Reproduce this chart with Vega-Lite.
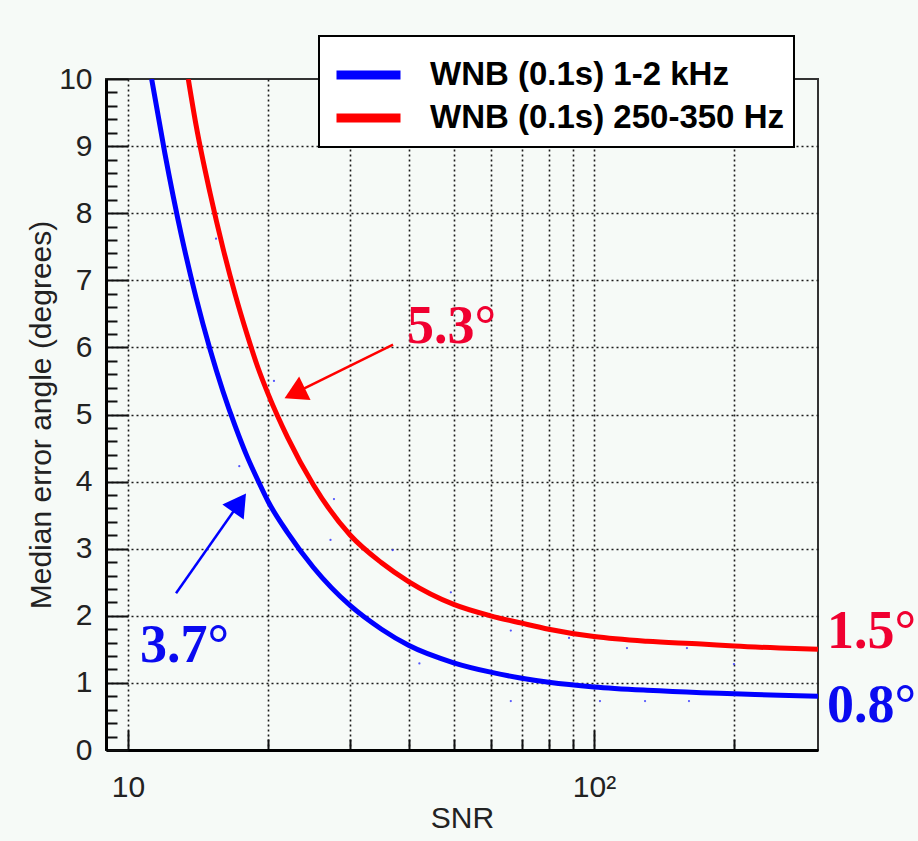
{
  "$schema": "https://vega.github.io/schema/vega-lite/v6.json",
  "width": 712,
  "height": 671,
  "autosize": {"type": "none"},
  "padding": {"left": 106, "top": 79, "right": 100, "bottom": 91},
  "background": "#f6faf7",
  "config": {
    "view": {"stroke": "#333", "strokeWidth": 2, "fill": "#f6faf7"},
    "legend": {"strokeWidth": 2},
    "axis": {
      "labelFont": "Liberation Sans",
      "labelFontSize": 30,
      "labelColor": "#222",
      "labelOverlap": false,
      "titleFont": "Liberation Sans",
      "titleFontSize": 30,
      "titleFontWeight": "normal",
      "titleColor": "#222",
      "domainColor": "#000",
      "domainWidth": 3,
      "tickColor": "#111",
      "tickWidth": 2,
      "gridColor": "#1a1a1a",
      "gridDash": [2, 3],
      "gridWidth": 1.6
    }
  },
  "datasets": {
    "curves": [
      {"snr": 11.24, "err": 10, "series": "WNB (0.1s) 1-2 kHz"},
      {"snr": 12, "err": 8.89, "series": "WNB (0.1s) 1-2 kHz"},
      {"snr": 13, "err": 7.69, "series": "WNB (0.1s) 1-2 kHz"},
      {"snr": 14, "err": 6.74, "series": "WNB (0.1s) 1-2 kHz"},
      {"snr": 15, "err": 5.97, "series": "WNB (0.1s) 1-2 kHz"},
      {"snr": 16, "err": 5.34, "series": "WNB (0.1s) 1-2 kHz"},
      {"snr": 17, "err": 4.82, "series": "WNB (0.1s) 1-2 kHz"},
      {"snr": 18, "err": 4.38, "series": "WNB (0.1s) 1-2 kHz"},
      {"snr": 19, "err": 4.02, "series": "WNB (0.1s) 1-2 kHz"},
      {"snr": 20, "err": 3.7, "series": "WNB (0.1s) 1-2 kHz"},
      {"snr": 22, "err": 3.24, "series": "WNB (0.1s) 1-2 kHz"},
      {"snr": 25, "err": 2.72, "series": "WNB (0.1s) 1-2 kHz"},
      {"snr": 30, "err": 2.15, "series": "WNB (0.1s) 1-2 kHz"},
      {"snr": 35, "err": 1.8, "series": "WNB (0.1s) 1-2 kHz"},
      {"snr": 40, "err": 1.56, "series": "WNB (0.1s) 1-2 kHz"},
      {"snr": 50, "err": 1.3, "series": "WNB (0.1s) 1-2 kHz"},
      {"snr": 60, "err": 1.16, "series": "WNB (0.1s) 1-2 kHz"},
      {"snr": 70, "err": 1.07, "series": "WNB (0.1s) 1-2 kHz"},
      {"snr": 80, "err": 1.01, "series": "WNB (0.1s) 1-2 kHz"},
      {"snr": 100, "err": 0.94, "series": "WNB (0.1s) 1-2 kHz"},
      {"snr": 130, "err": 0.89, "series": "WNB (0.1s) 1-2 kHz"},
      {"snr": 170, "err": 0.855, "series": "WNB (0.1s) 1-2 kHz"},
      {"snr": 200, "err": 0.84, "series": "WNB (0.1s) 1-2 kHz"},
      {"snr": 250, "err": 0.815, "series": "WNB (0.1s) 1-2 kHz"},
      {"snr": 302.5, "err": 0.8, "series": "WNB (0.1s) 1-2 kHz"},
      {"snr": 13.47, "err": 10, "series": "WNB (0.1s) 250-350 Hz"},
      {"snr": 14, "err": 9.31, "series": "WNB (0.1s) 250-350 Hz"},
      {"snr": 15, "err": 8.3, "series": "WNB (0.1s) 250-350 Hz"},
      {"snr": 16, "err": 7.47, "series": "WNB (0.1s) 250-350 Hz"},
      {"snr": 17, "err": 6.78, "series": "WNB (0.1s) 250-350 Hz"},
      {"snr": 18, "err": 6.2, "series": "WNB (0.1s) 250-350 Hz"},
      {"snr": 19, "err": 5.7, "series": "WNB (0.1s) 250-350 Hz"},
      {"snr": 20, "err": 5.3, "series": "WNB (0.1s) 250-350 Hz"},
      {"snr": 22, "err": 4.66, "series": "WNB (0.1s) 250-350 Hz"},
      {"snr": 25, "err": 3.95, "series": "WNB (0.1s) 250-350 Hz"},
      {"snr": 30, "err": 3.2, "series": "WNB (0.1s) 250-350 Hz"},
      {"snr": 35, "err": 2.79, "series": "WNB (0.1s) 250-350 Hz"},
      {"snr": 40, "err": 2.51, "series": "WNB (0.1s) 250-350 Hz"},
      {"snr": 50, "err": 2.17, "series": "WNB (0.1s) 250-350 Hz"},
      {"snr": 60, "err": 2.0, "series": "WNB (0.1s) 250-350 Hz"},
      {"snr": 70, "err": 1.89, "series": "WNB (0.1s) 250-350 Hz"},
      {"snr": 80, "err": 1.8, "series": "WNB (0.1s) 250-350 Hz"},
      {"snr": 100, "err": 1.69, "series": "WNB (0.1s) 250-350 Hz"},
      {"snr": 130, "err": 1.62, "series": "WNB (0.1s) 250-350 Hz"},
      {"snr": 170, "err": 1.58, "series": "WNB (0.1s) 250-350 Hz"},
      {"snr": 200, "err": 1.55, "series": "WNB (0.1s) 250-350 Hz"},
      {"snr": 250, "err": 1.52, "series": "WNB (0.1s) 250-350 Hz"},
      {"snr": 302.5, "err": 1.5, "series": "WNB (0.1s) 250-350 Hz"}
    ],
    "scatter": [
      {"snr": 15.45, "err": 7.62},
      {"snr": 20.57, "err": 5.5},
      {"snr": 17.33, "err": 4.23},
      {"snr": 27.67, "err": 3.74},
      {"snr": 27.2, "err": 3.13},
      {"snr": 36.98, "err": 2.98},
      {"snr": 49.3, "err": 2.35},
      {"snr": 42.2, "err": 1.29},
      {"snr": 66.3, "err": 1.78},
      {"snr": 88.4, "err": 1.67},
      {"snr": 117.7, "err": 1.52},
      {"snr": 158.3, "err": 1.52},
      {"snr": 199.7, "err": 1.28},
      {"snr": 66.3, "err": 0.73},
      {"snr": 103, "err": 0.73},
      {"snr": 128.7, "err": 0.73},
      {"snr": 159.9, "err": 0.73}
    ],
    "arrows": [
      {"band": "1-2 kHz", "snr_from": 12.68, "err_from": 2.335, "snr_to": 17.35, "err_to": 3.684},
      {"band": "250-350 Hz", "snr_from": 37.05, "err_from": 6.04, "snr_to": 22.79, "err_to": 5.317}
    ],
    "notes": [
      {"band": "1-2 kHz", "text": "3.7°", "snr": 10.15, "err": 1.31},
      {"band": "1-2 kHz", "text": "0.8°", "snr": 302.5, "err": 0.417},
      {"band": "250-350 Hz", "text": "5.3°", "snr": 37.97, "err": 6.07},
      {"band": "250-350 Hz", "text": "1.5°", "snr": 302.5, "err": 1.52}
    ]
  },
  "layer": [
    {
      "data": {"name": "curves"},
      "mark": {"type": "line", "interpolate": "monotone", "strokeWidth": 5, "clip": true},
      "encoding": {
        "x": {
          "field": "snr", "type": "quantitative",
          "scale": {"type": "log", "domain": [8.97, 302.5], "nice": false},
          "axis": {
            "title": "SNR",
            "values": [10, 20, 30, 40, 50, 60, 70, 80, 90, 100, 200],
            "tickCount": 100,
            "labelExpr": "datum.value == 10 ? '10' : datum.value == 100 ? '10²' : ''",
            "tickSize": {"condition": {"test": "datum.value == 10 || datum.value == 100", "value": -20}, "value": -11},
            "labelPadding": 42,
            "titlePadding": -8,
            "grid": true
          }
        },
        "y": {
          "field": "err", "type": "quantitative",
          "scale": {"domain": [0, 10], "nice": false},
          "axis": {
            "title": "Median error angle (degrees)",
            "values": [0, 0.2, 0.4, 0.6, 0.8, 1, 1.2, 1.4, 1.6, 1.8, 2, 2.2, 2.4, 2.6, 2.8, 3, 3.2, 3.4, 3.6, 3.8, 4, 4.2, 4.4, 4.6, 4.8, 5, 5.2, 5.4, 5.6, 5.8, 6, 6.2, 6.4, 6.6, 6.8, 7, 7.2, 7.4, 7.6, 7.8, 8, 8.2, 8.4, 8.6, 8.8, 9, 9.2, 9.4, 9.6, 9.8, 10],
            "tickCount": 200,
            "labelExpr": "datum.value == round(datum.value) ? format(datum.value, 'd') : ''",
            "tickSize": {"condition": {"test": "datum.value == round(datum.value)", "value": -22}, "value": -11},
            "gridOpacity": {"condition": {"test": "datum.value == round(datum.value) && datum.value > 0 && datum.value < 10", "value": 1}, "value": 0},
            "labelPadding": 36,
            "titlePadding": 2,
            "grid": true
          }
        },
        "color": {
          "field": "series", "type": "nominal",
          "scale": {"domain": ["WNB (0.1s) 1-2 kHz", "WNB (0.1s) 250-350 Hz"], "range": ["#0000ff", "#ff0000"]},
          "legend": {
            "orient": "none", "legendX": 213, "legendY": -43,
            "title": " ", "titleFontSize": 8, "titlePadding": 2,
            "symbolType": "stroke", "symbolStrokeWidth": 9, "symbolSize": 4096, "symbolOffset": 3,
            "clipHeight": 38, "rowPadding": 5, "padding": 10,
            "labelFont": "Liberation Sans",
            "labelFontSize": 33, "labelFontWeight": "bold",
            "labelColor": "#000", "labelOffset": 25, "labelLimit": 600,
            "fillColor": "#ffffff", "strokeColor": "#000000"
          }
        }
      }
    },
    {
      "data": {"name": "scatter"},
      "mark": {"type": "point", "filled": true, "size": 5, "color": "#2a2aff", "opacity": 0.8},
      "encoding": {
        "x": {"field": "snr", "type": "quantitative"},
        "y": {"field": "err", "type": "quantitative"}
      }
    },
    {
      "data": {"name": "arrows"},
      "transform": [{"filter": "datum.band == '1-2 kHz'"}],
      "layer": [
        {
          "mark": {"type": "rule", "color": "#0000ff", "strokeWidth": 2.5},
          "encoding": {
            "x": {"field": "snr_from", "type": "quantitative"},
            "y": {"field": "err_from", "type": "quantitative"},
            "x2": {"field": "snr_to"},
            "y2": {"field": "err_to"}
          }
        },
        {
          "mark": {"type": "point", "shape": "triangle-up", "filled": true, "opacity": 1, "size": 680, "angle": 35, "color": "#0000ff"},
          "encoding": {
            "x": {"field": "snr_to", "type": "quantitative"},
            "y": {"field": "err_to", "type": "quantitative"}
          }
        }
      ]
    },
    {
      "data": {"name": "arrows"},
      "transform": [{"filter": "datum.band == '250-350 Hz'"}],
      "layer": [
        {
          "mark": {"type": "rule", "color": "#ff0000", "strokeWidth": 2.5},
          "encoding": {
            "x": {"field": "snr_from", "type": "quantitative"},
            "y": {"field": "err_from", "type": "quantitative"},
            "x2": {"field": "snr_to"},
            "y2": {"field": "err_to"}
          }
        },
        {
          "mark": {"type": "point", "shape": "triangle-up", "filled": true, "opacity": 1, "size": 680, "angle": 244, "color": "#ff0000"},
          "encoding": {
            "x": {"field": "snr_to", "type": "quantitative"},
            "y": {"field": "err_to", "type": "quantitative"}
          }
        }
      ]
    },
    {
      "data": {"name": "notes"},
      "transform": [{"filter": "datum.band == '1-2 kHz'"}],
      "mark": {"type": "text", "align": "left", "baseline": "alphabetic", "dx": 9, "font": "Liberation Serif", "fontWeight": "bold", "fontSize": 54, "color": "#0a0af0"},
      "encoding": {
        "x": {"field": "snr", "type": "quantitative"},
        "y": {"field": "err", "type": "quantitative"},
        "text": {"field": "text"}
      }
    },
    {
      "data": {"name": "notes"},
      "transform": [{"filter": "datum.band == '250-350 Hz'"}],
      "mark": {"type": "text", "align": "left", "baseline": "alphabetic", "dx": 9, "font": "Liberation Serif", "fontWeight": "bold", "fontSize": 54, "color": "#f00030"},
      "encoding": {
        "x": {"field": "snr", "type": "quantitative"},
        "y": {"field": "err", "type": "quantitative"},
        "text": {"field": "text"}
      }
    }
  ]
}
